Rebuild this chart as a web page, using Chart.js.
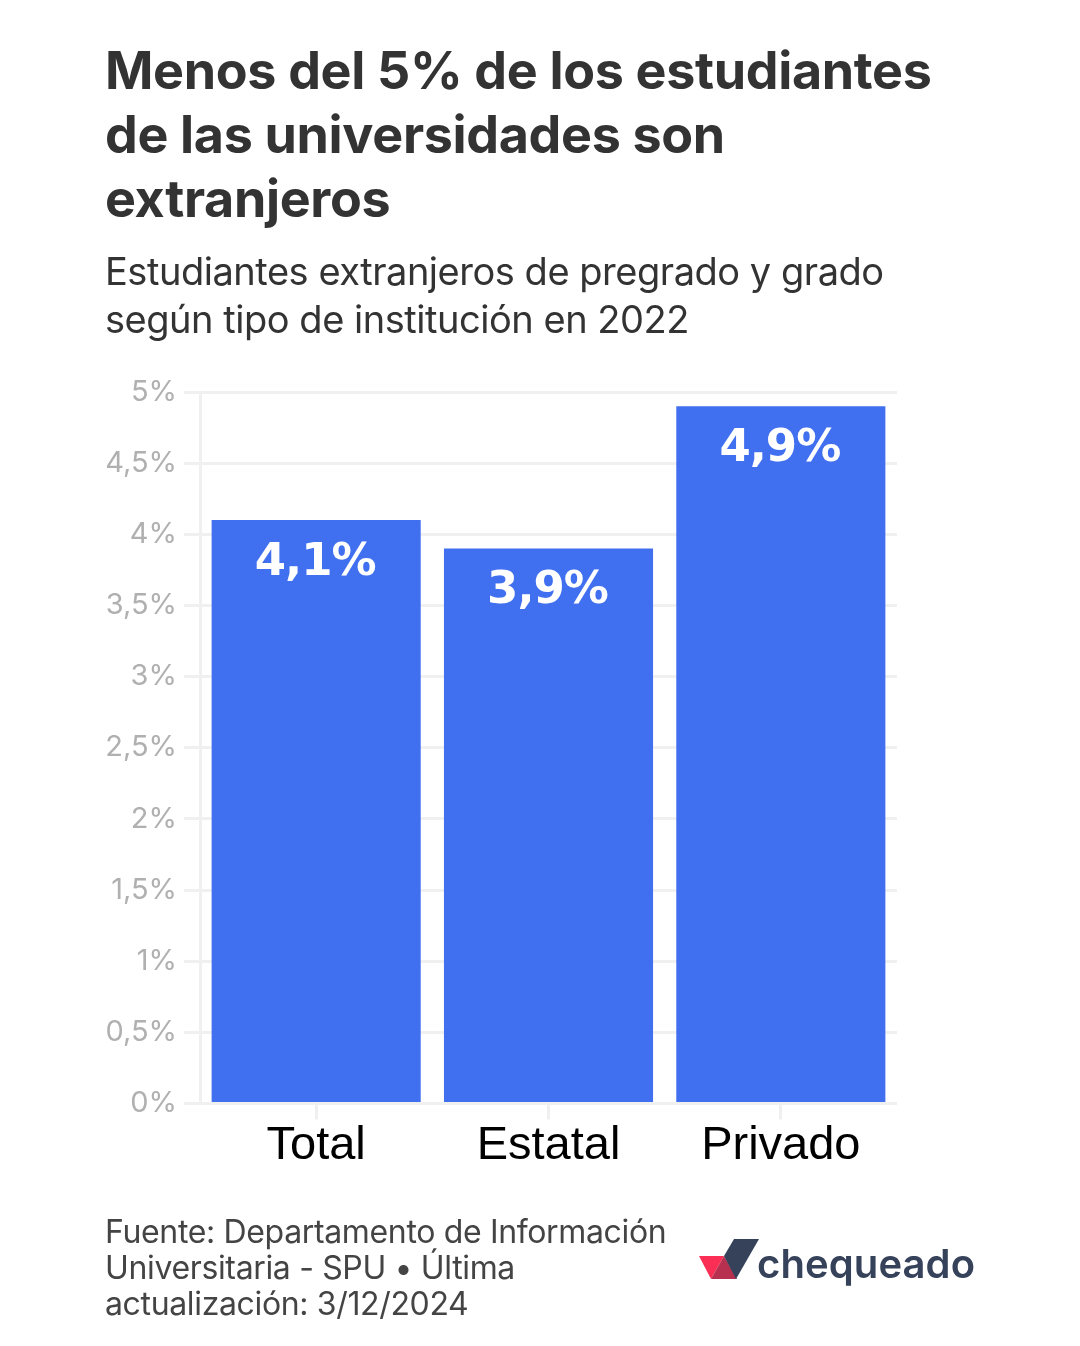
<!DOCTYPE html>
<html lang="es">
<head>
<meta charset="utf-8">
<title>Estudiantes extranjeros</title>
<script src="https://cdn.jsdelivr.net/npm/chart.js@4"></script>
<style>
html,body{margin:0;padding:0;background:#fff;width:1080px;height:1346px;overflow:hidden}
#c{position:absolute;left:0;top:0}
.t{position:absolute;left:105px;white-space:nowrap;color:#333;font-family:Inter,sans-serif}
#title{top:39px;font-size:52px;line-height:64px;font-weight:700;letter-spacing:-.33px}
#sub{top:247px;font-size:38px;line-height:48px;font-weight:400;letter-spacing:-.47px}
#src{top:1214px;font-size:32px;line-height:36px;font-weight:400;letter-spacing:-.35px;color:#444}
#logo{position:absolute;left:698px;top:1238px}
#brand{position:absolute;left:757px;top:1234px;font:600 40px/60px Inter,sans-serif;color:#36425a;letter-spacing:.1px}
</style>
</head>
<body>
<canvas id="c" width="1080" height="1346"></canvas>
<div class="t" id="title">Menos del 5% de los estudiantes<br>de las universidades son<br>extranjeros</div>
<div class="t" id="sub">Estudiantes extranjeros de pregrado y grado<br>según tipo de institución en 2022</div>
<div class="t" id="src">Fuente: Departamento de Información<br>Universitaria - SPU • Última<br>actualización: 3/12/2024</div>
<svg id="logo" width="62" height="44" viewBox="0 0 62 44">
<polygon points="1,18 26,18 13,41 13,41" fill="#fb2f55"/>
<polygon points="26,18 39,41 13,41" fill="#b7304f"/>
<polygon points="36,1 61,1 38,41 26,18" fill="#36425a"/>
</svg>
<div id="brand">chequeado</div>
<script>
const categories = ['Total', 'Estatal', 'Privado'];
const values = [4.1, 3.9, 4.9];
const valueLabels = ['4,1%', '3,9%', '4,9%'];
const yTickLabels = ['0%','0,5%','1%','1,5%','2%','2,5%','3%','3,5%','4%','4,5%','5%'];

const barLabels = {
  id: 'barLabels',
  afterDatasetsDraw(chart) {
    const ctx = chart.ctx;
    ctx.save();
    ctx.fillStyle = '#fff';
    ctx.font = '700 45px "DejaVu Sans", sans-serif';
    ctx.letterSpacing = '-1px';
    ctx.textAlign = 'center';
    ctx.textBaseline = 'middle';
    chart.getDatasetMeta(0).data.forEach((bar, i) => {
      ctx.fillText(valueLabels[i], bar.x - 1, bar.y + 43);
    });
    ctx.restore();
  }
};

new Chart(document.getElementById('c'), {
  type: 'bar',
  data: { labels: categories, datasets: [{ data: values, backgroundColor: '#4070f0', categoryPercentage: 0.9, barPercentage: 1 }] },
  plugins: [barLabels],
  options: {
    responsive: false,
    animation: false,
    devicePixelRatio: 1,
    layout: { padding: { top: 392, right: 183, left: 0, bottom: 0 } },
    plugins: { legend: { display: false }, tooltip: { enabled: false } },
    scales: {
      x: {
        afterFit(s) { s.height = 242.5; },
        grid: { offset: false, drawOnChartArea: false, drawTicks: true, tickLength: 16, tickColor: '#f0f0f0', tickWidth: 3 },
        border: { display: false },
        ticks: { color: '#000', padding: -2, font: { family: '"Liberation Sans", sans-serif', size: 47 }, maxRotation: 0 }
      },
      y: {
        min: 0, max: 5,
        afterFit(s) { s.width = 200; },
        grid: { color: '#f0f0f0', lineWidth: 3, tickLength: 16, tickColor: '#f0f0f0' },
        border: { display: true, color: '#f0f0f0', width: 3 },
        ticks: {
          stepSize: 0.5, color: '#b0b0b0', padding: 7,
          font: { family: 'Inter, sans-serif', size: 29 },
          callback(v) { return yTickLabels[Math.round(v * 2)]; }
        }
      }
    }
  }
});
</script>
</body>
</html>
